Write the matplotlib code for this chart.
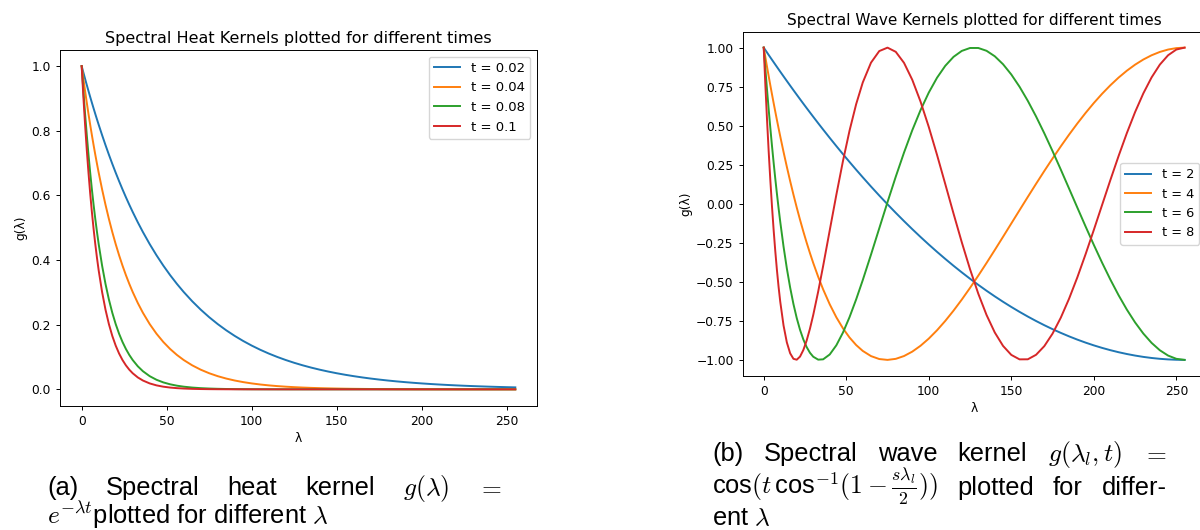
import matplotlib
matplotlib.use("Agg")
import matplotlib.pyplot as plt

# eigenvalue grid (denser near 0 where the kernels change fast)
lam = [0, 1, 2, 3, 4, 5, 6, 7, 8, 9, 10, 12, 14, 16, 18, 20, 22, 24, 26, 28, 30,
       33, 36, 40, 44, 48, 52, 56, 60, 65, 70, 75, 80, 85, 90, 95, 100, 105, 110,
       115, 120, 125, 130, 135, 140, 145, 150, 155, 160, 165, 170, 175, 180, 185,
       190, 195, 200, 205, 210, 215, 220, 225, 230, 235, 240, 245, 250, 255]

# --- heat kernels, values ---
heat_t = ["0.02", "0.04", "0.08", "0.1"]
heat_002 = [1.0, 0.98020, 0.96079, 0.94176, 0.92312, 0.90484, 0.88692, 0.86936, 0.85214, 0.83527, 0.81873,
            0.78663, 0.75578, 0.72615, 0.69768, 0.67032, 0.64404, 0.61878, 0.59452, 0.57121, 0.54881,
            0.51685, 0.48675, 0.44933, 0.41478, 0.38289, 0.35345, 0.32628,
            0.30119, 0.27253, 0.24660, 0.22313, 0.20190, 0.18268, 0.16530, 0.14957, 0.13534, 0.12246,
            0.11080, 0.10026, 0.09072, 0.08208, 0.07427, 0.06721, 0.06081, 0.05502, 0.04979, 0.04505,
            0.04076, 0.03688, 0.03337, 0.03020, 0.02732, 0.02472, 0.02237, 0.02024, 0.01832, 0.01657,
            0.01500, 0.01357, 0.01228, 0.01111, 0.01005, 0.00910, 0.00823, 0.00745, 0.00674, 0.00610]
heat_004 = [1.0, 0.96079, 0.92312, 0.88692, 0.85214, 0.81873, 0.78663, 0.75578, 0.72615, 0.69768, 0.67032,
            0.61878, 0.57121, 0.52729, 0.48675, 0.44933, 0.41478, 0.38289, 0.35345, 0.32628, 0.30119,
            0.26714, 0.23693, 0.20190, 0.17204, 0.14661, 0.12493, 0.10646,
            0.09072, 0.07427, 0.06081, 0.04979, 0.04076, 0.03337, 0.02732, 0.02237, 0.01832, 0.01500,
            0.01228, 0.01005, 0.00823, 0.00674, 0.00552, 0.00452, 0.00370, 0.00303, 0.00248, 0.00203,
            0.00166, 0.00136, 0.00111, 0.00091, 0.00075, 0.00061, 0.00050, 0.00041, 0.00034, 0.00028,
            0.00023, 0.00018, 0.00015, 0.00012, 0.00010, 0.00008, 0.00007, 0.00006, 0.00005, 0.00004]
heat_008 = [1.0, 0.92312, 0.85214, 0.78663, 0.72615, 0.67032, 0.61878, 0.57121, 0.52729, 0.48675, 0.44933,
            0.38289, 0.32628, 0.27804, 0.23693, 0.20190, 0.17204, 0.14661, 0.12493, 0.10646, 0.09072,
            0.07136, 0.05613, 0.04076, 0.02960, 0.02149, 0.01561, 0.01133,
            0.00823, 0.00552, 0.00370, 0.00248, 0.00166, 0.00111, 0.00075, 0.00050, 0.00034, 0.00022,
            0.00015, 0.00010, 0.00007, 0.00005, 0.00003, 0.00002, 0.00001, 0.00001, 0.0, 0.0,
            0.0, 0.0, 0.0, 0.0, 0.0, 0.0, 0.0, 0.0, 0.0, 0.0,
            0.0, 0.0, 0.0, 0.0, 0.0, 0.0, 0.0, 0.0, 0.0, 0.0]
heat_01 = [1.0, 0.90484, 0.81873, 0.74082, 0.67032, 0.60653, 0.54881, 0.49659, 0.44933, 0.40657, 0.36788,
           0.30119, 0.24660, 0.20190, 0.16530, 0.13534, 0.11080, 0.09072, 0.07427, 0.06081, 0.04979,
           0.03688, 0.02732, 0.01832, 0.01228, 0.00823, 0.00552, 0.00370,
           0.00248, 0.00150, 0.00091, 0.00055, 0.00034, 0.00020, 0.00012, 0.00007, 0.00005, 0.00003,
           0.00002, 0.00001, 0.0, 0.0, 0.0, 0.0, 0.0, 0.0, 0.0, 0.0,
           0.0, 0.0, 0.0, 0.0, 0.0, 0.0, 0.0, 0.0, 0.0, 0.0,
           0.0, 0.0, 0.0, 0.0, 0.0, 0.0, 0.0, 0.0, 0.0, 0.0]

# --- wave kernels, values ---
wave_t = ["2", "4", "6", "8"]
wave_2 = [1.0, 0.9843, 0.9688, 0.9532, 0.9377, 0.9223, 0.9070, 0.8917, 0.8765, 0.8613, 0.8462,
          0.8162, 0.7864, 0.7569, 0.7276, 0.6986, 0.6698, 0.6412, 0.6129, 0.5849, 0.5571,
          0.5158, 0.4752, 0.4218, 0.3694, 0.3179, 0.2675, 0.2180,
          0.1696, 0.1103, 0.0527, -0.0035, -0.0581, -0.1111, -0.1626, -0.2126, -0.2611, -0.3080,
          -0.3533, -0.3972, -0.4394, -0.4802, -0.5194, -0.5571, -0.5932, -0.6278, -0.6609, -0.6924,
          -0.7224, -0.7509, -0.7778, -0.8032, -0.8270, -0.8493, -0.8701, -0.8893, -0.9070, -0.9231,
          -0.9377, -0.9508, -0.9623, -0.9723, -0.9808, -0.9877, -0.9931, -0.9969, -0.9992, -1.0]
wave_4 = [1.0, 0.9379, 0.8770, 0.8173, 0.7587, 0.7014, 0.6453, 0.5903, 0.5364, 0.4837, 0.4322,
          0.3323, 0.2369, 0.1458, 0.0588, -0.0240, -0.1028, -0.1776, -0.2486, -0.3158, -0.3793,
          -0.4678, -0.5485, -0.6442, -0.7272, -0.7978, -0.8569, -0.9049,
          -0.9425, -0.9757, -0.9945, -1.0, -0.9933, -0.9753, -0.9471, -0.9096, -0.8637, -0.8103,
          -0.7503, -0.6845, -0.6138, -0.5388, -0.4604, -0.3793, -0.2961, -0.2117, -0.1264, -0.0411,
          0.0438, 0.1276, 0.2099, 0.2901, 0.3678, 0.4426, 0.5140, 0.5816, 0.6452, 0.7043,
          0.7586, 0.8080, 0.8521, 0.8908, 0.9238, 0.9511, 0.9724, 0.9877, 0.9969, 1.0]
wave_6 = [1.0, 0.8620, 0.7303, 0.6048, 0.4853, 0.3715, 0.2635, 0.1610, 0.0639, -0.0280, -0.1148,
          -0.2737, -0.4138, -0.5362, -0.6420, -0.7321, -0.8075, -0.8690, -0.9177, -0.9543, -0.9797,
          -0.9985, -0.9964, -0.9652, -0.9065, -0.8252, -0.7259, -0.6126,
          -0.4892, -0.3257, -0.1574, 0.0104, 0.1734, 0.3278, 0.4707, 0.5994, 0.7120, 0.8071,
          0.8835, 0.9409, 0.9789, 0.9977, 0.9977, 0.9797, 0.9446, 0.8936, 0.8280, 0.7493,
          0.6592, 0.5593, 0.4513, 0.3372, 0.2186, 0.0975, -0.0243, -0.1452, -0.2633, -0.3771,
          -0.4850, -0.5857, -0.6777, -0.7600, -0.8314, -0.8911, -0.9383, -0.9724, -0.9931, -1.0]
wave_8 = [1.0, 0.7592, 0.5381, 0.3358, 0.1514, -0.0160, -0.1673, -0.3032, -0.4245, -0.5320, -0.6265,
          -0.7791, -0.8877, -0.9575, -0.9931, -0.9988, -0.9789, -0.9369, -0.8764, -0.8006, -0.7123,
          -0.5623, -0.3984, -0.1699, 0.0575, 0.2731, 0.4686, 0.6378,
          0.7766, 0.9038, 0.9779, 0.9999, 0.9731, 0.9025, 0.7940, 0.6547, 0.4920, 0.3133,
          0.1260, -0.0628, -0.2466, -0.4194, -0.5760, -0.7123, -0.8246, -0.9104, -0.9680, -0.9966,
          -0.9962, -0.9674, -0.9119, -0.8317, -0.7294, -0.6082, -0.4717, -0.3235, -0.1676, -0.0081,
          0.1510, 0.3057, 0.4522, 0.5871, 0.7070, 0.8092, 0.8912, 0.9512, 0.9877, 1.0]

# caption words, one list per printed line
cap_a1 = ["(a)", "Spectral", "heat", "kernel", r"$g(\lambda)$", r"$=$"]
cap_a2 = [r"$e^{-\lambda t}$plotted for different $\lambda$"]
cap_b1 = ["(b)", "Spectral", "wave", "kernel", r"$g(\lambda_l,t)$", r"$=$"]
cap_b2 = [r"cos$(t\,$cos$^{-1}(1-\frac{s\lambda_l}{2}))$", "plotted", "for", "differ-"]
cap_b3 = [r"ent $\lambda$"]

plt.rcParams["mathtext.fontset"] = "cm"

small = 8.8
fig = plt.figure(figsize=(12, 5.3), dpi=100)

def style_axes(ax):
    ax.tick_params(labelsize=small, length=3, width=0.7)
    for s in ax.spines.values():
        s.set_linewidth(0.7)

# panel (a)
ax1 = fig.add_axes([0.05, 0.2349, 0.3975, 0.6708])
for vals, t in zip([heat_002, heat_004, heat_008, heat_01], heat_t):
    ax1.plot(lam, vals, lw=1.4, label=f"t = {t}")
ax1.set_title("Spectral Heat Kernels plotted for different times", fontsize=11.5, pad=5)
ax1.set_xlabel("λ", fontsize=small, labelpad=3)
ax1.set_ylabel("g(λ)", fontsize=small, labelpad=3)
ax1.legend(loc="upper right", fontsize=9.5)
style_axes(ax1)

# panel (b)
ax2 = fig.add_axes([0.6189, 0.2915, 0.3858, 0.6481])
for vals, t in zip([wave_2, wave_4, wave_6, wave_8], wave_t):
    ax2.plot(lam, vals, lw=1.4, label=f"t = {t}")
ax2.set_title("Spectral Wave Kernels plotted for different times", fontsize=11.0, pad=5)
ax2.set_xlabel("λ", fontsize=small, labelpad=3)
ax2.set_ylabel("g(λ)", fontsize=small, labelpad=3)
ax2.legend(loc="center right", fontsize=9.3)
style_axes(ax2)

# captions: justified lines like in the paper
cap = dict(fontsize=18.4, family="Liberation Sans", va="baseline", ha="left")
renderer = fig.canvas.get_renderer()

def line(words, x0, x1, y_px, justify=True):
    texts = [fig.text(x0 / 1200, 1 - y_px / 530, w, **cap) for w in words]
    if not justify or len(texts) < 2:
        return
    widths = [t.get_window_extent(renderer).width for t in texts]
    gap = (x1 - x0 - sum(widths)) / (len(texts) - 1)
    x = x0
    for t, w in zip(texts, widths):
        t.set_x(x / 1200)
        x += w + gap

line(cap_a1, 47, 502, 495)
line(cap_a2, 47, 502, 524, justify=False)
line(cap_b1, 712, 1167, 461)
line(cap_b2, 712, 1167, 495)
line(cap_b3, 712, 1167, 525, justify=False)

fig.savefig("out.png", dpi=100)
